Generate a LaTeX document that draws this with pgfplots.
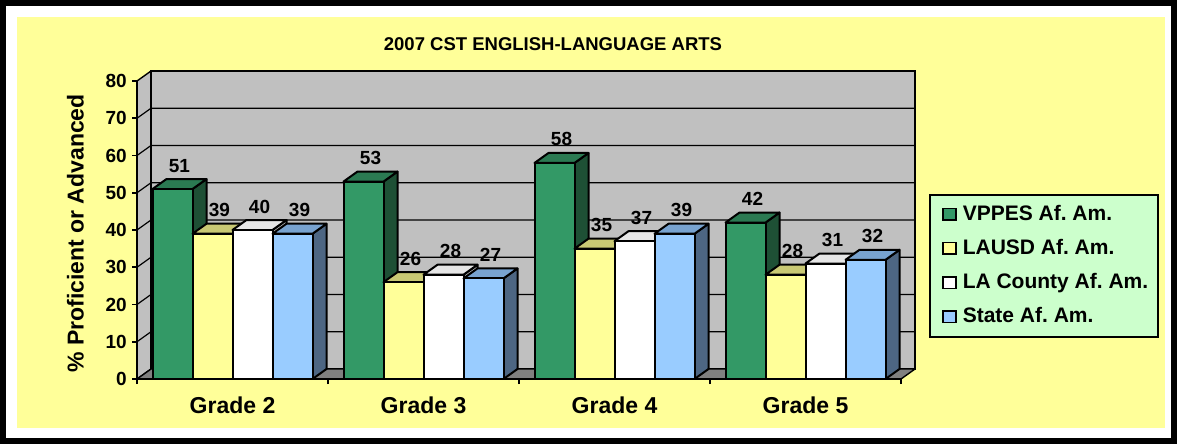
\documentclass[border=0pt]{standalone}
\usepackage{pgfplots}
\pgfplotsset{compat=1.18}
\usepackage{pgfplotstable}
\usepackage{fontspec}
\setmainfont{Liberation Sans}
\definecolor{bgyellow}{HTML}{FFFF99}
\definecolor{wallgray}{HTML}{C0C0C0}
\definecolor{floorgray}{HTML}{808080}
\definecolor{legbg}{HTML}{CCFFCC}
\definecolor{cgreen}{HTML}{339966}
\definecolor{cgreentop}{HTML}{2B7A52}
\definecolor{cgreenside}{HTML}{1E5035}
\definecolor{cyellow}{HTML}{FFFF99}
\definecolor{cyellowtop}{HTML}{C9C974}
\definecolor{cyellowside}{HTML}{A3A35C}
\definecolor{cwhite}{HTML}{FFFFFF}
\definecolor{cwhitetop}{HTML}{E6E6E6}
\definecolor{cwhiteside}{HTML}{B3B3B3}
\definecolor{cblue}{HTML}{99CCFF}
\definecolor{cbluetop}{HTML}{78A3D0}
\definecolor{cblueside}{HTML}{4D6683}

\pgfdeclareplotmark{nomark}{}

\pgfplotstableread{
x y
0.5 51
1.5 53
2.5 58
3.5 42
}\vppes
\pgfplotstableread{
x y
0.5 39
1.5 26
2.5 35
3.5 28
}\lausd
\pgfplotstableread{
x y
0.5 40
1.5 28
2.5 37
3.5 31
}\lacounty
\pgfplotstableread{
x y
0.5 39
1.5 27
2.5 39
3.5 32
}\state

\pgfplotsset{
  front bar/.style n args={2}{ybar, bar width=40pt, bar shift=#1, fill=none, draw=none,
    nodes near coords={\bfseries\pgfmathprintnumber{\pgfplotspointmeta}},
    every node near coord/.append style={anchor=base, xshift={#1+7pt}, yshift=17pt, inner sep=0pt,
      text=black, font=\bfseries\fontsize{19}{19}\selectfont},
    legend image code/.code={\path (0pt,0pt); \draw[fill=#2, draw=black, line width=1.5pt] (3pt,-5.5pt) rectangle (16pt,6pt);}},
  box faces/.style n args={4}{scatter, only marks, mark=nomark, forget plot,
    visualization depends on={rawy \as \vy},
    scatter/@pre marker code/.code={%
      \filldraw[fill=#3, draw=black, line width=2pt, line join=round]
        ({#1+20pt},0pt) -- ({#1+34pt},10pt) -- ({#1+34pt},{10pt-\vy*3.725pt}) -- ({#1+20pt},{-\vy*3.725pt}) -- cycle;
      \filldraw[fill=#2, draw=black, line width=2pt, line join=round]
        ({#1-20pt},0pt) -- ({#1+20pt},0pt) -- ({#1+34pt},10pt) -- ({#1-6pt},10pt) -- cycle;
      \filldraw[fill=#4, draw=black, line width=2pt, line join=round]
        ({#1-20pt},0pt) rectangle ({#1+20pt},{-\vy*3.725pt});
    },
    scatter/@post marker code/.code={}},
}

\begin{document}
\begin{tikzpicture}
\useasboundingbox (0pt,0pt) rectangle (1177pt,-444pt);
\fill[white] (0pt,0pt) rectangle (1177pt,-444pt);
\draw[line width=6pt] (3pt,-3pt) rectangle (1174pt,-441pt);
\fill[bgyellow] (17pt,-17pt) rectangle (1165pt,-428pt);
\node[anchor=base, font=\bfseries\fontsize{18.5}{18.5}\selectfont] at (553pt,-51pt) {2007 CST ENGLISH-LANGUAGE ARTS};

\begin{axis}[
  at={(137pt,-379pt)}, anchor=south west,
  x=191pt, y=3.725pt,
  xmin=0, xmax=4, ymin=0, ymax=80,
  clip=false,
  axis line style={draw=none},
  xtick={0,1,2,3,4}, x tick label as interval,
  xticklabels={Grade 2,Grade 3,Grade 4,Grade 5},
  ytick={0,10,20,30,40,50,60,70,80},
  xtick pos=lower, ytick pos=left,
  tick align=outside, major tick length=5pt,
  tick style={black, line width=1.8pt},
  /pgf/number format/assume math mode=true,
  yticklabel style={font=\bfseries\fontsize{19}{19}\selectfont, inner sep=0pt, xshift=-5pt},
  xticklabel style={font=\bfseries\fontsize{23}{23}\selectfont, anchor=base, inner sep=0pt, yshift=-29pt},
  ylabel={\% Proficient or Advanced},
  ylabel style={font=\bfseries\fontsize{23}{23}\selectfont, at={(axis description cs:-0.0805,0.4883)}, anchor=center},
  legend style={at={(axis description cs:1.03665,0.62081)}, anchor=north west, draw=black,
    line width=2pt, fill=legbg, font=\bfseries\fontsize{21}{21}\selectfont,
    inner xsep=10pt, inner ysep=10pt, row sep=15.2pt, column sep=6pt,
    nodes={inner sep=0pt, text height=15pt, text depth=4pt}},
  legend cell align=left,
]
% left wall
\filldraw[fill=wallgray, draw=black, line width=1.4pt, line join=round]
  (axis cs:0,0) -- ++(14pt,10pt) -- ([shift={(14pt,10pt)}]axis cs:0,80) -- (axis cs:0,80) -- cycle;
% back wall
\filldraw[fill=wallgray, draw=black, line width=1.4pt]
  ([shift={(14pt,10pt)}]axis cs:0,0) rectangle ([shift={(14pt,10pt)}]axis cs:4,80);
% grid
\pgfplotsinvokeforeach{10,20,30,40,50,60,70}{
  \draw[line width=1.2pt] (axis cs:0,#1) -- ++(14pt,10pt) -- ([shift={(14pt,10pt)}]axis cs:4,#1);
}
% floor
\filldraw[fill=floorgray, draw=black, line width=1.4pt, line join=round]
  (axis cs:0,0) -- (axis cs:4,0) -- ++(14pt,10pt) -- ([shift={(14pt,10pt)}]axis cs:0,0) -- cycle;

\addplot[box faces={-60pt}{cgreentop}{cgreenside}{cgreen}] table[x=x,y=y] {\vppes};
\addplot[box faces={-20pt}{cyellowtop}{cyellowside}{cyellow}] table[x=x,y=y] {\lausd};
\addplot[box faces={20pt}{cwhitetop}{cwhiteside}{cwhite}] table[x=x,y=y] {\lacounty};
\addplot[box faces={60pt}{cbluetop}{cblueside}{cblue}] table[x=x,y=y] {\state};

\addplot[front bar={-60pt}{cgreen}] table[x=x,y=y] {\vppes};
\addlegendentry{VPPES Af.\ Am.}
\addplot[front bar={-20pt}{cyellow}] table[x=x,y=y] {\lausd};
\addlegendentry{LAUSD Af.\ Am.}
\addplot[front bar={20pt}{cwhite}] table[x=x,y=y] {\lacounty};
\addlegendentry{LA County Af.\ Am.}
\addplot[front bar={60pt}{cblue}] table[x=x,y=y] {\state};
\addlegendentry{State Af.\ Am.}

\draw[line width=2pt, line cap=rect] (axis cs:0,80) -- (axis cs:0,0) -- (axis cs:4,0);
\end{axis}
\end{tikzpicture}
\end{document}
